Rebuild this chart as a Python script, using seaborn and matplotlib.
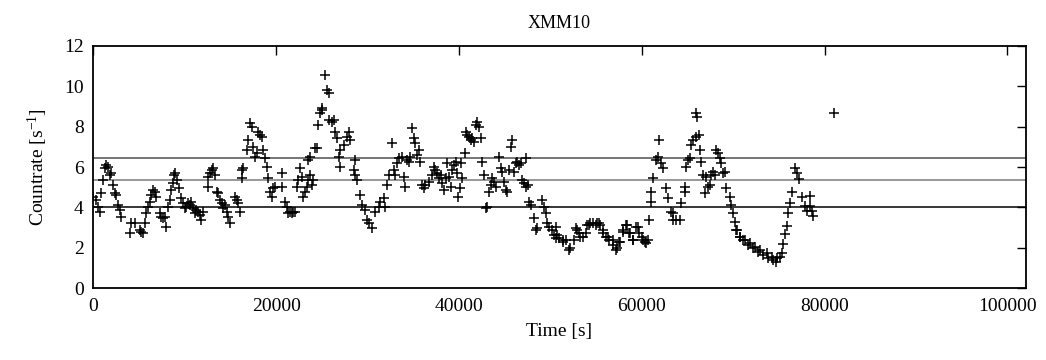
import numpy as np
import pandas as pd
import matplotlib
matplotlib.use("Agg")
import matplotlib.pyplot as plt
import seaborn as sns

# ---- data (time [s], count rate [1/s]) ----
seg_a_time = [0, 330, 510, 700, 880, 1060, 1240, 1430, 1610, 1790, 1970, 2150, 2340, 2520, 2700,
              2880, 3070, 3980, 4160, 4530, 5070, 5260, 5440, 5620, 5800, 5980, 6170, 6350, 6530,
              6710, 6900, 7260, 7440, 7630, 7810, 7990, 8170, 8350, 8540, 8720, 8830, 8970, 9190,
              9340, 9630, 9810, 9990, 10180, 10360, 10540, 10720, 10910, 11090, 11270, 11450,
              11640, 11820, 12000]
seg_a_rate = [4.53, 4.37, 4.04, 3.79, 4.70, 5.36, 5.93, 6.10, 6.00, 5.60, 5.70, 5.10, 4.70, 4.60, 4.10,
              3.87, 3.54, 2.72, 3.21, 3.21, 2.88, 2.80, 2.72, 3.21, 3.70, 4.04, 4.28, 4.61, 4.86,
              4.78, 4.53, 3.70, 3.54, 3.46, 3.54, 3.05, 4.04, 4.37, 4.86, 5.19, 5.60, 5.69, 5.36,
              4.94, 4.45, 4.20, 3.95, 4.04, 4.20, 4.12, 4.28, 3.95, 3.70, 3.87, 3.79,
              3.62, 3.38, 3.79]

seg_b_time = [12580, 12580, 12770, 12950, 13130, 13310, 13500, 13680, 13860, 14040, 14230, 14410,
              14590, 14770, 14960, 15500, 15680, 15870, 16050, 16230, 16300, 16410, 16780, 16960,
              17140, 17330, 17510, 17690, 17870, 18060, 18240, 18420, 18600, 18790, 18970, 19150,
              19330, 19510, 19700, 19880, 20610, 20680, 20970, 21160, 21340, 21520, 21700, 21880,
              22070, 22250, 22430, 22610, 22800, 22980, 23160, 23340, 23530, 23530, 23710, 23710,
              23890, 24070, 24250, 24440, 24620, 24800, 24980]
seg_b_rate = [5.03, 5.52, 5.69, 5.85, 5.93, 5.60, 4.78, 4.70, 4.37, 4.20, 3.95, 4.12,
              3.79, 3.54, 3.21, 4.53, 4.37, 4.20, 3.79, 5.44, 5.85, 5.93, 6.84, 7.33,
              8.16, 8.00, 7.00, 6.51, 6.67, 7.75, 7.58, 7.50, 6.84, 6.43, 6.02, 5.44,
              4.78, 4.53, 4.94, 5.03, 5.69, 5.03, 4.28, 4.04, 3.70, 3.79, 3.70, 3.79,
              3.79, 5.03, 5.36, 5.93, 5.52, 4.53, 4.78, 5.03, 6.34, 5.36, 6.51, 5.60,
              5.11, 5.36, 6.92, 6.92, 8.08, 8.65, 8.82]

seg_c_time = [25020, 25380, 25570, 25750, 25750, 26110, 26300, 26480, 26660, 26840, 27030, 27030,
              27390, 27760, 27940, 28120, 28480, 28670, 28670, 28850, 29210, 29400, 29760, 29940,
              30130, 30490, 30860, 31220, 31400, 31770, 31950, 32130, 32310, 32680, 32860, 33040,
              33230, 33410, 33770, 33960, 34140, 34320, 34500, 34680, 34870, 35050, 35230, 35410,
              35600, 35780, 35960, 36140, 36330, 36690, 37060, 37240, 37420, 37600, 37780]
seg_c_rate = [8.90, 10.55, 9.81, 9.64, 8.32, 8.24, 8.32, 7.75, 7.42, 6.51, 6.84, 6.02,
              7.09, 7.50, 7.75, 7.33, 5.85, 6.34, 5.60, 5.36, 4.61, 4.12, 3.87, 3.38,
              3.21, 2.97, 3.79, 4.04, 4.28, 4.45, 4.04, 5.11, 5.60, 7.17, 5.85, 5.60,
              6.18, 6.43, 6.51, 5.52, 5.03, 6.34, 6.26, 6.51, 7.91, 7.42, 7.17, 6.59,
              6.84, 6.26, 5.11, 4.94, 5.11, 5.27, 5.60, 6.02, 5.85, 5.69, 5.44]

seg_d_time = [38000, 38180, 38370, 38550, 38730, 38910, 39100, 39280, 39460, 39640, 39830, 39940,
              40080, 40190, 40370, 40660, 40740, 40920, 41100, 41280, 41470, 41650, 41830, 42010,
              42200, 42380, 42560, 42740, 42930, 43110, 43290, 43470, 43660, 43840, 44020, 44380,
              44570, 44750, 44930, 45110, 45300, 45480, 45660, 45840, 46030, 46210, 46390, 46570,
              46760, 46940, 47120, 47300, 47370, 47590, 47670, 47850, 48210, 48400, 48580, 49130,
              49310, 49490, 49670, 49860, 50220, 50400]
seg_d_rate = [5.60, 5.19, 4.86, 5.44, 6.18, 5.52, 5.03, 5.85, 6.10, 6.26, 5.69, 4.53,
              4.94, 6.18, 5.44, 6.67, 7.75, 7.58, 7.50, 7.33, 7.42, 7.25, 8.08, 8.24,
              8.00, 7.42, 6.26, 5.60, 3.95, 4.04, 4.78, 5.11, 5.44, 5.27, 5.03, 6.51,
              5.93, 5.77, 5.27, 4.86, 4.78, 5.85, 7.00, 7.33, 5.77, 6.18, 6.26, 6.10,
              6.18, 5.36, 5.19, 6.43, 5.03, 5.11, 4.28, 4.12, 3.46, 2.88, 2.97, 4.37,
              4.04, 3.70, 3.21, 3.05, 2.88, 2.64]

seg_e_time = [50580, 50620, 50690, 50980, 51350, 51420, 51710, 52080, 52150, 52630, 52810, 52880,
              53170, 53240, 53540, 53900, 53970, 54270, 54330, 54630, 55000, 55070, 55360, 55430,
              55730, 55800, 56090, 56340, 56460, 56820, 56890, 57180, 57250, 57550, 57620, 57910,
              57980, 58280, 58350, 58640, 58710, 59010, 59080, 59370, 59620, 59740, 59990, 60100,
              60350, 60470, 60720, 60830, 61010, 61010, 61200, 61560, 61740, 61930, 62110, 62290,
              62660, 62840, 63200, 63380]
seg_e_rate = [2.47, 3.05, 2.64, 2.47, 2.31, 2.39, 2.39, 1.89, 1.98, 2.39, 2.97, 2.88,
              2.72, 2.55, 2.55, 2.72, 3.13, 3.13, 3.21, 3.21, 3.13, 3.21, 3.21, 3.13,
              2.88, 2.72, 2.55, 2.55, 2.39, 2.14, 2.39, 1.89, 1.98, 2.31, 2.31, 2.88,
              2.80, 3.13, 3.13, 2.72, 2.72, 2.39, 2.39, 3.05, 3.05, 2.72, 2.55, 2.39,
              2.31, 2.22, 2.39, 3.38, 4.28, 4.78, 5.44, 6.34, 6.51, 7.33, 6.18, 5.93,
              4.94, 4.45, 3.79, 3.38]

seg_f_time = [63420, 63780, 64150, 64330, 64700, 64700, 64880, 65060, 65240, 65430, 65610, 65970,
              66260, 65970, 66050, 66340, 66520, 66700, 66880, 67070, 67250, 67430, 67610, 67800,
              67980, 68160, 68340, 68530, 68710, 68890, 69070, 69260, 69620, 69800, 69990, 70170,
              70350, 70380, 70710, 70750, 71080, 71300, 71630, 71840, 72170, 72390, 72720, 72940,
              73270, 73670, 73810, 74210, 74360, 74730, 74760, 75090, 75310, 75490, 75670, 75850,
              76040, 76220, 76400, 76770, 76950, 77240, 77500, 77860, 78040, 78410, 78410, 78590,
              78770, 81030]
seg_f_rate = [3.70, 3.38, 3.38, 4.20, 5.03, 4.78, 6.02, 6.34, 6.43, 7.09, 7.33, 7.50,
              7.58, 8.65, 8.49, 6.84, 6.26, 5.60, 4.70, 5.52, 5.03, 5.11, 5.60, 5.77,
              5.60, 6.84, 6.67, 6.43, 6.18, 5.69, 5.77, 4.94, 4.53, 4.12, 3.70, 3.29,
              2.88, 2.88, 2.55, 2.55, 2.39, 2.39, 2.14, 2.22, 1.98, 2.06, 1.81, 1.89,
              1.65, 1.73, 1.48, 1.56, 1.40, 1.32, 1.48, 1.56, 1.75, 2.20, 2.70, 3.10,
              3.70, 4.20, 4.78, 5.93, 5.70, 5.40, 4.53, 4.05, 3.80, 4.55, 4.05, 3.80,
              3.60, 8.69]

# horizontal reference levels (upper, mean, lower)
level_values = [6.43, 5.36, 4.02]
level_colors = ["#505050", "#7a7a7a", "#000000"]

x_ticks = [0, 20000, 40000, 60000, 80000, 100000]
y_ticks = [0, 2, 4, 6, 8, 10, 12]

title_text = "XMM10"
x_label = "Time [s]"
y_label = "Countrate [s$^{\\mathregular{-1}}$]"

# ---- build table ----
times = seg_a_time + seg_b_time + seg_c_time + seg_d_time + seg_e_time + seg_f_time
rates = seg_a_rate + seg_b_rate + seg_c_rate + seg_d_rate + seg_e_rate + seg_f_rate
df = pd.DataFrame({"time": times, "rate": rates})

sns.set_style("white")
plt.rcParams["font.family"] = ["Liberation Serif", "DejaVu Serif"]
plt.rcParams["mathtext.fontset"] = "custom"
plt.rcParams["mathtext.rm"] = "Liberation Serif"
plt.rcParams["mathtext.it"] = "Liberation Serif:italic"
plt.rcParams["text.color"] = "black"
plt.rcParams["axes.labelcolor"] = "black"
plt.rcParams["xtick.color"] = "black"
plt.rcParams["ytick.color"] = "black"

fig = plt.figure(figsize=(10.46, 3.60), dpi=100)
ax = fig.add_axes([93.3 / 1046, 1 - 288.3 / 360, (1025.7 - 93.3) / 1046, (288.3 - 45.7) / 360])

for val, col in zip(level_values, level_colors):
    ax.axhline(val, color=col, lw=1.1, zorder=1)

sns.scatterplot(data=df, x="time", y="rate", marker="+", color="black",
                s=50, linewidth=1.1, ax=ax, zorder=3, legend=False)

ax.set_xlim(0, 102000)
ax.set_ylim(0, 12)
ax.set_xticks(x_ticks)
ax.set_yticks(y_ticks)
ax.set_xticklabels([str(v) for v in x_ticks])
ax.set_yticklabels([str(v) for v in y_ticks])
ax.tick_params(direction="in", length=6.5, width=1.0, top=True, right=True,
               labelsize=14, pad=7, colors="black")
for sp in ax.spines.values():
    sp.set_linewidth(1.3)
    sp.set_color("black")

ax.set_xlabel(x_label, fontsize=14, labelpad=6, color="black")
ax.set_ylabel(y_label, fontsize=14, labelpad=10, color="black")
ax.set_title(title_text, fontsize=13, pad=13, color="black")

fig.savefig("out.png", dpi=100, facecolor="white")
